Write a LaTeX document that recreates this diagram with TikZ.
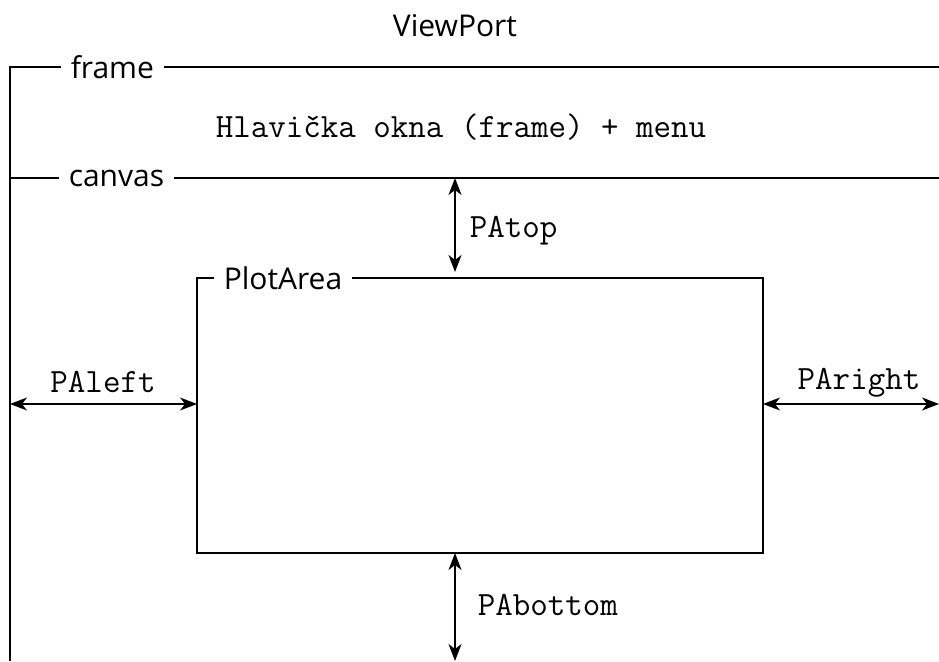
\documentclass[tikz,border=0pt]{standalone}
\usepackage{fontspec}
\setmainfont{Open Sans}
\usetikzlibrary{arrows.meta}

\begin{document}
\begin{tikzpicture}[
                x=1pt,y=-1pt,
                line width=1.5pt,
                >={Stealth[length=17pt,width=13pt,inset=5pt]},
                title/.style={font=\fontsize{30}{36}\selectfont,fill=white,inner sep=10pt},
                code/.style={font=\ttfamily\fontsize{34}{38}\selectfont,inner sep=0pt},
                gap/.style={<->}
            ]
                \useasboundingbox (0,0) rectangle (939,661);
                \node (V) [font=\fontsize{30}{36}\selectfont,anchor=base] at (455,37) {ViewPort};

                % frame + canvas
                \coordinate (FL) at (10,67);
                \coordinate (FR) at (939,67);
                \coordinate (CL) at (10,178);
                \coordinate (CR) at (939,178);
                \coordinate (BL) at (10,661);
                \draw (FR) -- (FL) -- (BL);
                \draw (CL) -- (CR);
                \node (F) [title,anchor=west] at (60,67) {frame};
                \node (C) [title,anchor=west] at (58,178) {canvas};
                \node (H) [code,anchor=base] at (461,137) {Hlavička okna (frame) + menu};

                % PlotArea
                \coordinate (PA1) at (197,278);
                \coordinate (PA2) at (763,553);
                \draw (PA1) rectangle (PA2);
                \node (P) [title,anchor=west] at (213,278) {PlotArea};

                % okraje
                \coordinate (T1) at (455,178);
                \coordinate (T2) at (455,272);
                \draw[gap] (T1) -- (T2);
                \node (Ttop) [code,anchor=base west] at (469,237) {PAtop};
                \coordinate (L1) at (10,404);
                \coordinate (L2) at (197,404);
                \draw[gap] (L1) -- (L2);
                \node (Tleft) [code,anchor=base] at (103,392) {PAleft};
                \coordinate (R1) at (763,404);
                \coordinate (R2) at (939,404);
                \draw[gap] (R1) -- (R2);
                \node (Tright) [code,anchor=base] at (859,389) {PAright};
                \coordinate (B1) at (455,553);
                \coordinate (B2) at (455,661);
                \draw[gap] (B1) -- (B2);
                \node (Tbottom) [code,anchor=base west] at (477,615) {PAbottom};
            \end{tikzpicture}
\end{document}
